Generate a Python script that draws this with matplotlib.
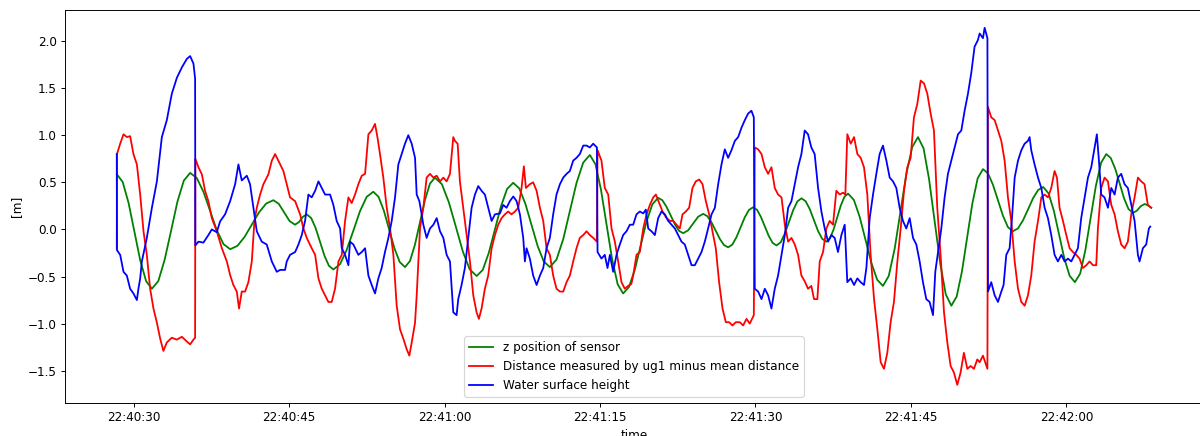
import matplotlib
matplotlib.use("Agg")
import matplotlib.pyplot as plt
import matplotlib.dates as mdates
import pandas as pd

# seconds after 22:40:00 and values in metres
sensor_sec = [28.38, 28.94, 29.51, 30.07, 30.63, 31.20,
              31.76, 32.38, 32.99, 33.61, 34.22, 34.84,
              35.45, 36.09, 36.74, 37.38, 38.02, 38.67,
              39.31, 40.01, 40.70, 41.40, 42.09, 42.79,
              43.48, 44.00, 44.53, 45.05,
              45.57, 45.95, 46.32,
              46.70, 47.13, 47.56, 47.99, 48.41, 48.84,
              49.27, 49.91, 50.55, 51.20, 51.84, 52.48,
              53.12, 53.63, 54.14, 54.65, 55.16, 55.67,
              56.18, 56.66, 57.14, 57.63, 58.11, 58.59,
              59.07, 59.74, 60.41, 61.09, 61.76, 62.43,
              63.10, 63.69, 64.27, 64.86, 65.45, 66.03,
              66.62, 67.21, 67.80, 68.39, 68.98, 69.57,
              70.16, 70.80, 71.45, 72.09, 72.73, 73.38,
              74.02, 74.56, 75.09, 75.63, 76.16, 76.70,
              77.23, 77.79, 78.36, 78.92, 79.48, 80.05,
              80.61, 81.01, 81.41, 81.82, 82.22, 82.62,
              83.02, 83.50, 83.99, 84.47,
              84.95, 85.35, 85.75, 86.16, 86.56, 86.96,
              87.36, 87.76, 88.16, 88.57, 88.97, 89.37,
              89.77, 90.15, 90.52, 90.90, 91.28, 91.65,
              92.03, 92.43, 92.83, 93.24, 93.64, 94.04,
              94.44, 94.84, 95.24, 95.64, 96.03, 96.43,
              96.83, 97.18, 97.53, 97.88, 98.23, 98.58,
              98.93, 99.49, 100.05, 100.62, 101.18, 101.74,
              102.30, 102.86, 103.43, 103.99, 104.55, 105.12,
              105.68, 106.22, 106.75, 107.29, 107.83, 108.36,
              108.90, 109.41, 109.92, 110.43, 110.93, 111.44,
              111.95, 112.43, 112.91, 113.40, 113.88, 114.36,
              114.84, 115.33, 115.82, 116.31, 116.79, 117.28,
              117.77, 118.28, 118.79, 119.30, 119.80, 120.31,
              120.82, 121.33, 121.83, 122.34, 122.84, 123.35,
              123.85, 124.28, 124.71, 125.14, 125.56, 125.99,
              126.42, 126.80, 127.17,
              127.55, 127.87, 128.19]
sensor_z = [0.585, 0.504, 0.281, -0.023, -0.326, -0.549,
            -0.63, -0.548, -0.322, -0.015, 0.293, 0.518,
            0.60, 0.546, 0.398, 0.195, -0.008, -0.156,
            -0.21, -0.175, -0.08, 0.05, 0.18, 0.275,
            0.31, 0.272, 0.18, 0.088,
            0.05, 0.078, 0.133,
            0.16, 0.121, 0.014, -0.133, -0.279, -0.386,
            -0.425, -0.370, -0.219, -0.013, 0.194, 0.345,
            0.40, 0.346, 0.20, 0.0, -0.20, -0.346,
            -0.40, -0.336, -0.163, 0.075, 0.313, 0.486,
            0.55, 0.48, 0.289, 0.028, -0.234, -0.425,
            -0.495, -0.429, -0.248, 0.0, 0.248, 0.429,
            0.495, 0.435, 0.271, 0.048, -0.176, -0.340,
            -0.40, -0.320, -0.103, 0.195, 0.493, 0.710,
            0.79, 0.692, 0.423, 0.055, -0.313, -0.582,
            -0.68, -0.612, -0.426, -0.173, 0.081, 0.267,
            0.335, 0.31, 0.241, 0.148, 0.054, -0.015,
            -0.04, -0.01, 0.063, 0.135,
            0.165, 0.141, 0.076, -0.013, -0.101, -0.166,
            -0.19, -0.162, -0.084, 0.023, 0.129, 0.207,
            0.235, 0.208, 0.134, 0.033, -0.069, -0.143,
            -0.17, -0.137, -0.045, 0.08, 0.205, 0.297,
            0.33, 0.299, 0.215, 0.10, -0.015, -0.099,
            -0.13, -0.096, -0.003, 0.125, 0.253, 0.346,
            0.38, 0.314, 0.135, -0.11, -0.355, -0.534,
            -0.60, -0.494, -0.205, 0.19, 0.585, 0.874,
            0.98, 0.86, 0.533, 0.085, -0.363, -0.69,
            -0.81, -0.713, -0.448, -0.085, 0.278, 0.543,
            0.64, 0.596, 0.475, 0.31, 0.145, 0.024,
            -0.02, 0.011, 0.098, 0.215, 0.333, 0.419,
            0.45, 0.382, 0.198, -0.055, -0.308, -0.492,
            -0.56, -0.469, -0.22, 0.12, 0.46, 0.709,
            0.80, 0.758, 0.644, 0.488, 0.331, 0.217,
            0.175, 0.199, 0.246,
            0.27, 0.255, 0.23]

ug1_sec = [28.37, 28.39, 28.70, 29.02, 29.34, 29.66, 29.98, 30.31, 30.63, 30.95,
           31.27, 31.59, 31.91, 32.24, 32.56, 32.87, 33.20, 33.68, 34.17, 34.65,
           35.13, 35.45, 35.77, 35.93, 35.95, 36.25, 36.58, 36.89, 37.21, 37.54,
           38.02, 38.51, 38.99, 39.31, 39.62, 39.95, 40.17, 40.43, 40.75, 41.07,
           41.40, 41.65, 41.88, 42.20, 42.52, 43.00, 43.33, 43.65, 43.96,
           44.13, 44.45, 44.77, 45.09, 45.58, 46.06, 46.38, 46.70, 47.18, 47.51,
           47.83, 48.15, 48.47, 48.79, 49.11, 49.43, 49.76, 50.08, 50.40, 50.72,
           51.04, 51.36, 51.68, 52.01, 52.33, 52.65, 52.97, 53.29, 53.52, 53.77,
           54.09, 54.42, 54.74, 55.06, 55.38, 55.70, 56.02, 56.34, 56.60, 56.83,
           57.15, 57.31, 57.63, 57.95, 58.27, 58.59, 58.92, 59.24, 59.56, 59.88,
           60.20, 60.52, 60.84,
           61.00, 61.26, 61.48, 61.80, 62.13, 62.45, 62.77, 63.09, 63.31, 63.57,
           63.89, 64.21, 64.54, 64.86, 65.18, 65.50, 65.82, 66.14, 66.46, 66.79,
           67.11, 67.43, 67.65, 67.85, 68.23, 68.55, 68.88, 69.20, 69.52, 69.84,
           70.16, 70.48, 70.80, 71.13, 71.45, 71.77, 72.09, 72.41, 72.73, 73.05,
           73.38, 73.70, 74.02, 74.34, 74.70, 74.76, 75.14, 75.46, 75.79, 76.11,
           76.43, 76.75, 77.07, 77.39, 77.71,
           78.02, 78.20, 78.52, 78.84, 79.17, 79.49, 79.81, 80.13, 80.39, 80.71,
           81.03, 81.42, 81.74, 82.06, 82.38, 82.70, 82.96, 83.28, 83.60, 83.92,
           84.24, 84.57, 84.89, 85.21, 85.53, 85.85, 86.17, 86.49, 86.82, 87.14,
           87.46, 87.78, 88.10, 88.49, 88.81, 89.13, 89.45, 89.84, 89.93, 90.26,
           90.58, 90.90, 91.22, 91.54, 91.86, 92.18, 92.51, 92.83, 93.15, 93.47,
           93.79, 94.11, 94.43,
           94.75, 95.07, 95.39, 95.65, 95.97, 96.20, 96.52, 96.84, 97.16, 97.48,
           97.80, 98.13, 98.45, 98.67, 98.86, 99.19, 99.51, 99.83, 100.15, 100.47,
           100.79, 101.11, 101.44, 101.76, 102.08, 102.40, 102.72, 103.04, 103.36, 103.69,
           104.01, 104.33, 104.65, 104.97, 105.29, 105.61, 105.94, 106.26, 106.58, 106.90,
           107.22, 107.54, 107.86, 108.19, 108.51, 108.83, 109.15, 109.47, 109.79, 110.11,
           110.44, 110.76, 111.08, 111.40,
           111.63, 111.95, 112.38, 112.43, 112.75, 113.08, 113.40, 113.72, 114.04, 114.36,
           114.68, 115.01, 115.33, 115.65, 115.97, 116.29, 116.61, 116.93, 117.26, 117.58,
           117.90, 118.22, 118.54, 118.86, 119.09, 119.34, 119.67, 119.99, 120.31, 120.63,
           120.95, 121.27, 121.59, 121.92, 122.24, 122.56, 122.88, 123.04, 123.36, 123.68,
           124.01, 124.33, 124.65, 124.97, 125.29, 125.61, 125.93, 126.26, 126.58, 126.90,
           127.22, 127.54, 127.86, 128.18]
ug1_dist = [-0.20, 0.80, 0.91, 1.01, 0.98, 0.99, 0.80, 0.69, 0.37, -0.02,
            -0.27, -0.63, -0.84, -0.99, -1.16, -1.29, -1.20, -1.15, -1.17, -1.14,
            -1.19, -1.22, -1.17, -1.15, 0.75, 0.66, 0.585, 0.41, 0.30, 0.12,
            -0.02, -0.20, -0.34, -0.485, -0.59, -0.66, -0.84, -0.66, -0.66, -0.56,
            -0.34, 0.085, 0.23, 0.37, 0.48, 0.585, 0.73, 0.80, 0.73,
            0.69, 0.62, 0.48, 0.34, 0.30, 0.16, 0.01, -0.09, -0.20, -0.27,
            -0.52, -0.63, -0.70, -0.77, -0.77, -0.63, -0.34, -0.27, 0.09, 0.34,
            0.28, 0.37, 0.48, 0.57, 0.59, 1.01, 1.05, 1.12, 0.98, 0.80,
            0.55, 0.23, 0.01, -0.27, -0.81, -1.06, -1.16, -1.27, -1.34, -1.20,
            -0.99, -0.70, 0.01, 0.23, 0.55, 0.59, 0.55, 0.57, 0.51, 0.55,
            0.51, 0.59, 0.98,
            0.94, 0.91, 0.51, 0.23, -0.06, -0.34, -0.70, -0.88, -0.95, -0.84,
            -0.63, -0.49, -0.20, -0.06, 0.05, 0.12, 0.16, 0.19, 0.16, 0.19,
            0.23, 0.44, 0.67, 0.44, 0.48, 0.50, 0.41, 0.23, 0.09, -0.20,
            -0.27, -0.49, -0.63, -0.66, -0.66, -0.56, -0.49, -0.34, -0.20, -0.09,
            -0.06, -0.02, -0.06, -0.09, -0.13, 0.84, 0.73, 0.44, 0.37, 0.01,
            -0.13, -0.34, -0.56, -0.63, -0.60,
            -0.58, -0.49, -0.27, -0.24, 0.01, 0.16, 0.26, 0.34, 0.37, 0.28,
            0.19, 0.12, 0.09, 0.09, 0.05, 0.01, 0.16, 0.19, 0.23, 0.44,
            0.51, 0.53, 0.48, 0.30, 0.16, -0.02, -0.20, -0.56, -0.84, -0.985,
            -0.985, -1.02, -0.985, -0.985, -1.02, -0.95, -1.00, -0.91, 0.87, 0.85,
            0.80, 0.66, 0.59, 0.66, 0.44, 0.37, 0.34, 0.05, -0.13, -0.09,
            -0.16, -0.27, -0.49,
            -0.55, -0.63, -0.60, -0.74, -0.74, -0.34, -0.24, 0.01, 0.09, 0.05,
            0.41, 0.37, 0.39, 0.37, 1.01, 0.91, 0.98, 0.80, 0.76, 0.66,
            0.37, -0.27, -0.74, -1.06, -1.41, -1.48, -1.31, -0.985, -0.77, -0.34,
            0.01, 0.41, 0.66, 0.76, 1.19, 1.33, 1.58, 1.55, 1.44, 1.23,
            1.05, 0.23, -0.27, -0.88, -1.20, -1.45, -1.52, -1.65, -1.52, -1.31,
            -1.48, -1.45, -1.48, -1.38,
            -1.41, -1.34, -1.48, 1.30, 1.19, 1.16, 1.05, 0.94, 0.73, 0.34,
            0.09, -0.34, -0.63, -0.77, -0.81, -0.70, -0.49, -0.13, 0.09, 0.34,
            0.37, 0.34, 0.44, 0.62, 0.55, 0.23, 0.09, -0.06, -0.20, -0.24,
            -0.27, -0.31, -0.41, -0.38, -0.34, -0.38, -0.38, 0.01, 0.44, 0.55,
            0.51, 0.26, 0.16, -0.02, -0.16, -0.20, -0.13, 0.16, 0.34, 0.55,
            0.51, 0.48, 0.26, 0.23]

water_sec = [28.37, 28.39, 28.70, 29.02, 29.34, 29.66, 29.98, 30.31, 30.46, 30.63,
             30.79, 31.27, 31.76, 32.24, 32.72, 33.20, 33.68, 34.17, 34.65, 35.13,
             35.45, 35.77, 35.93, 35.95, 36.25, 36.73, 37.21, 37.54, 38.02, 38.34,
             38.82, 39.31, 39.79, 40.11, 40.43, 40.92, 41.23, 41.55, 41.88, 42.36,
             42.84, 43.33, 43.81,
             44.13, 44.61, 44.77, 45.09, 45.58, 45.90, 46.22, 46.54, 46.86, 47.18,
             47.51, 47.83, 48.15, 48.47, 48.95, 49.27, 49.59, 49.92, 50.08, 50.40,
             50.72, 50.88, 51.20, 51.68, 52.01, 52.33, 52.65, 52.97, 53.29, 53.61,
             53.93, 54.25, 54.58, 54.90, 55.22, 55.54, 55.86, 56.18, 56.50, 56.83,
             57.15, 57.31, 57.57, 57.79, 57.95, 58.27, 58.59, 58.92, 59.24, 59.56,
             59.88, 60.20, 60.52, 60.84,
             61.16, 61.32, 61.64, 61.96, 62.29, 62.61, 62.93, 63.25, 63.57, 63.89,
             64.21, 64.54, 64.86, 65.34, 65.66, 65.98, 66.30, 66.63, 66.95, 67.27,
             67.59, 67.75, 67.91, 68.23, 68.55, 68.88, 69.20, 69.52, 69.84, 70.16,
             70.48, 70.80, 71.13, 71.45, 71.77, 72.09, 72.41, 72.73, 73.05, 73.38,
             73.70, 74.02, 74.34, 74.70, 74.76, 75.14, 75.46, 75.72, 75.95, 76.27,
             76.59, 76.91, 77.23, 77.55,
             77.88, 78.20, 78.52, 78.84, 79.17, 79.42, 79.65, 79.97, 80.29, 80.61,
             80.93, 81.26, 81.58, 81.90, 82.22, 82.54, 82.86, 83.18, 83.51, 83.83,
             84.15, 84.47, 84.79, 85.11, 85.43, 85.76, 86.08, 86.40, 86.72, 87.04,
             87.36, 87.68, 88.01, 88.33, 88.65, 88.97, 89.29, 89.61, 89.84, 89.93,
             90.26, 90.58, 90.90, 91.22, 91.54, 91.86, 92.18, 92.51, 92.83, 93.15,
             93.47, 93.79, 94.11, 94.43,
             94.75, 95.07, 95.39, 95.71, 96.04, 96.36, 96.68, 97.00, 97.32, 97.64,
             97.96, 98.29, 98.61, 98.86, 99.19, 99.51, 99.83, 100.15, 100.47, 100.70,
             101.02, 101.34, 101.66, 101.98, 102.30, 102.63, 102.95, 103.27, 103.59, 103.91,
             104.23, 104.55, 104.88, 105.20, 105.52, 105.84, 106.16, 106.48, 106.80, 107.13,
             107.35, 107.61, 107.93, 108.25, 108.57, 108.89, 109.21, 109.54, 109.86, 110.18,
             110.50, 110.82, 111.14, 111.46,
             111.63, 111.95, 112.11, 112.38, 112.43, 112.75, 113.08, 113.40, 113.72, 113.94,
             114.20, 114.52, 114.75, 115.01, 115.33, 115.65, 115.97, 116.29, 116.45, 116.61,
             116.93, 117.26, 117.58, 117.90, 118.22, 118.54, 118.86, 119.18, 119.51, 119.83,
             120.15, 120.47, 120.79, 121.11, 121.43, 121.76, 122.08, 122.40, 122.72, 122.94,
             123.14, 123.36, 123.68, 124.01, 124.33, 124.65, 124.97, 125.29, 125.61, 125.93,
             126.26, 126.58, 126.90, 127.06, 127.38, 127.70, 127.96, 128.09]
water_h = [0.80, -0.22, -0.27, -0.45, -0.49, -0.63, -0.68, -0.75, -0.63, -0.52,
           -0.34, -0.09, 0.23, 0.51, 0.98, 1.16, 1.44, 1.61, 1.72, 1.81,
           1.84, 1.76, 1.60, -0.17, -0.13, -0.14, -0.06, 0.00, -0.03, 0.085,
           0.16, 0.30, 0.48, 0.69, 0.52, 0.57, 0.48, 0.23, -0.02, -0.13,
           -0.16, -0.34, -0.45,
           -0.43, -0.43, -0.34, -0.27, -0.24, -0.16, -0.06, 0.09, 0.37, 0.34,
           0.41, 0.51, 0.44, 0.37, 0.37, 0.26, 0.09, 0.01, -0.20, -0.27,
           -0.38, -0.13, -0.16, -0.27, -0.24, -0.20, -0.49, -0.59, -0.68, -0.52,
           -0.41, -0.24, -0.09, 0.09, 0.34, 0.69, 0.80, 0.91, 1.00, 0.91,
           0.76, 0.37, 0.30, 0.16, 0.05, -0.09, 0.01, 0.05, 0.12, -0.02,
           -0.09, -0.27, -0.34, -0.88,
           -0.91, -0.74, -0.59, -0.41, -0.09, 0.23, 0.37, 0.46, 0.41, 0.37,
           0.23, 0.09, 0.16, 0.17, 0.26, 0.23, 0.30, 0.35, 0.30, 0.16,
           -0.09, -0.34, -0.20, -0.31, -0.49, -0.59, -0.49, -0.41, -0.20, -0.09,
           0.16, 0.37, 0.48, 0.55, 0.59, 0.62, 0.73, 0.76, 0.80, 0.89,
           0.89, 0.87, 0.91, 0.87, -0.24, -0.31, -0.27, -0.41, -0.27, -0.45,
           -0.27, -0.16, -0.06, -0.02,
           0.05, 0.05, 0.16, 0.19, 0.17, 0.21, 0.01, -0.02, -0.06, 0.12,
           0.19, 0.16, 0.09, 0.05, 0.01, -0.06, -0.13, -0.16, -0.27, -0.38,
           -0.38, -0.31, -0.24, -0.13, 0.01, 0.16, 0.23, 0.48, 0.69, 0.85,
           0.76, 0.84, 0.94, 0.98, 1.08, 1.16, 1.23, 1.26, 1.19, -0.63,
           -0.66, -0.74, -0.63, -0.70, -0.84, -0.63, -0.49, -0.27, -0.06, 0.23,
           0.30, 0.48, 0.66, 0.80,
           1.05, 1.01, 0.87, 0.80, 0.44, 0.19, 0.01, -0.13, -0.06, -0.09,
           -0.24, -0.06, 0.05, -0.56, -0.52, -0.59, -0.52, -0.56, -0.59, -0.41,
           0.12, 0.37, 0.59, 0.80, 0.89, 0.73, 0.55, 0.51, 0.44, 0.23,
           0.09, 0.01, 0.12, -0.09, -0.16, -0.34, -0.56, -0.74, -0.77, -0.91,
           -0.45, -0.24, 0.01, 0.34, 0.59, 0.73, 0.87, 1.01, 1.05, 1.26,
           1.44, 1.66, 1.94, 2.01,
           2.08, 2.03, 2.14, 2.03, -0.66, -0.56, -0.70, -0.77, -0.66, -0.59,
           -0.27, -0.20, 0.12, 0.55, 0.73, 0.84, 0.91, 0.94, 0.98, 0.84,
           0.69, 0.55, 0.44, 0.23, 0.12, -0.06, -0.27, -0.34, -0.27, -0.34,
           -0.31, -0.34, -0.27, -0.20, 0.12, 0.34, 0.55, 0.66, 0.87, 1.01,
           0.73, 0.37, 0.34, 0.23, 0.44, 0.37, 0.55, 0.59, 0.48, 0.44,
           0.26, 0.09, -0.27, -0.34, -0.20, -0.16, 0.01, 0.03]

start = pd.Timestamp("2021-06-15 22:40:00")


def to_time(secs):
    return (start + pd.to_timedelta(secs, unit="s")).to_numpy()


# rendered at 86 dpi so text and lines come out at the smaller notebook scale
dpi = 86
fig = plt.figure(figsize=(1200 / dpi, 436 / dpi), dpi=dpi)
ax = fig.add_axes([0.0542, 0.0764, 0.9483, 0.9007])

ax.plot(to_time(sensor_sec), sensor_z, color="green", label="z position of sensor")
ax.plot(to_time(ug1_sec), ug1_dist, color="red",
        label="Distance measured by ug1 minus mean distance")
ax.plot(to_time(water_sec), water_h, color="blue", label="Water surface height")

ax.xaxis.set_major_locator(mdates.SecondLocator(bysecond=[0, 15, 30, 45]))
ax.xaxis.set_major_formatter(mdates.DateFormatter("%H:%M:%S"))
ax.set_xlabel("time")
ax.set_ylabel("[m]")
ax.legend(loc="lower center")

fig.savefig("out.png", dpi=dpi)
